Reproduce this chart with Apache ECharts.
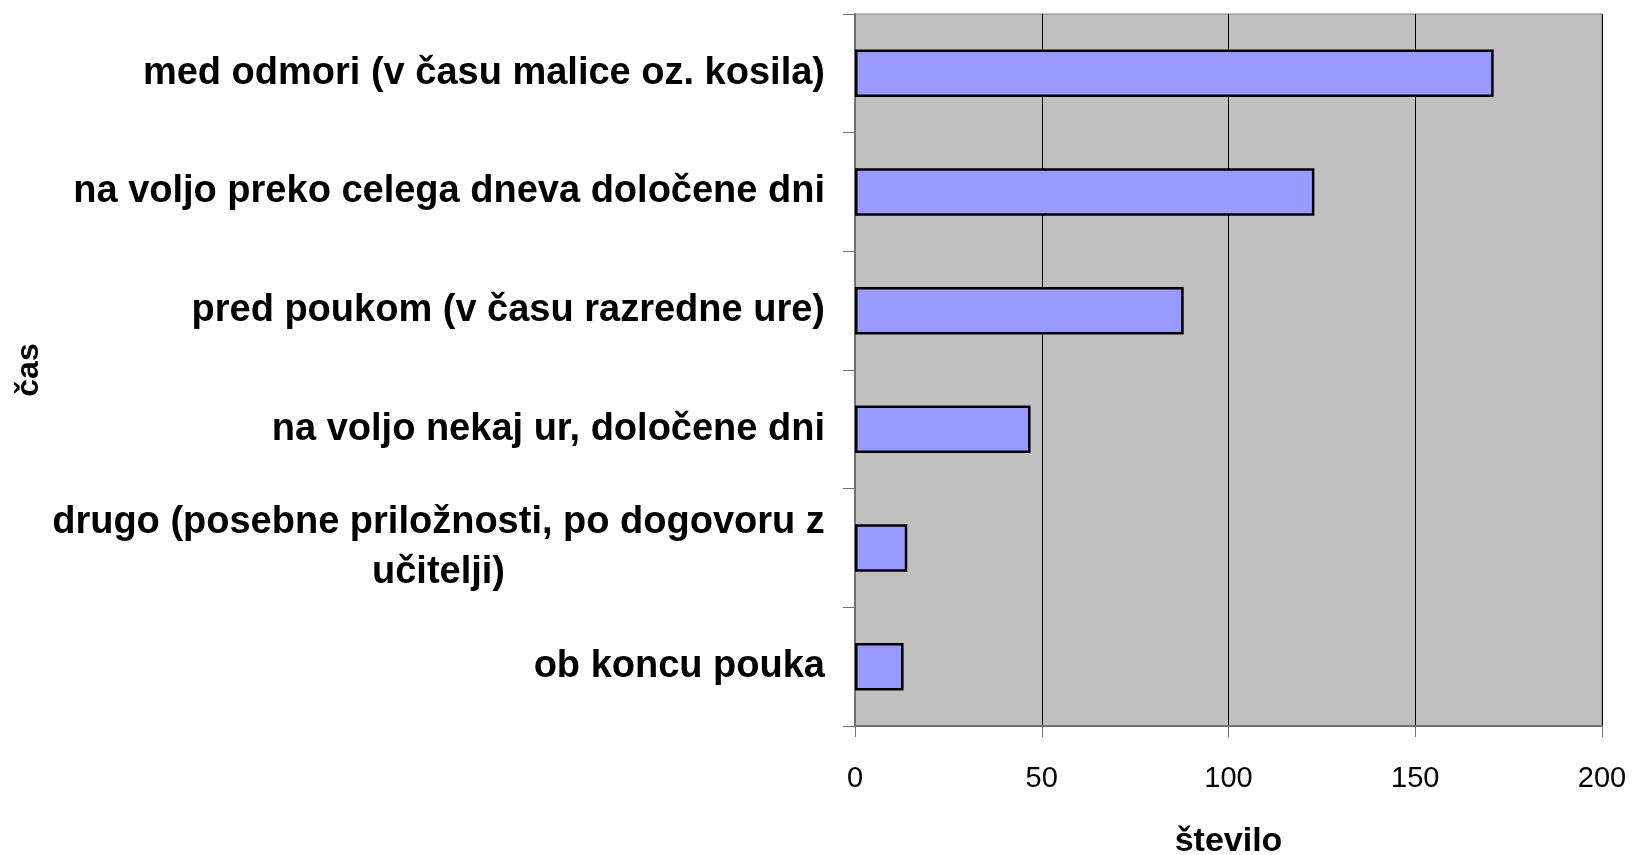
<!DOCTYPE html>
<html>
<head>
<meta charset="utf-8">
<script src="https://cdn.jsdelivr.net/npm/echarts@6/dist/echarts.min.js"></script>
<style>
  html, body { margin: 0; padding: 0; background: #fff; }
  #chart { width: 1635px; height: 855px; }
</style>
</head>
<body>
<div id="chart"></div>
<script>
// categories listed top to bottom
const categories = [
  'med odmori (v času malice oz. kosila)',
  'na voljo preko celega dneva določene dni',
  'pred poukom (v času razredne ure)',
  'na voljo nekaj ur, določene dni',
  'drugo (posebne priložnosti, po dogovoru z\nučitelji)',
  'ob koncu pouka'
];
const values = [171, 123, 88, 47, 14, 13];
const xTicks = [0, 50, 100, 150, 200];

const FONT = '"Liberation Sans", Arial, sans-serif';
const labelSize = 38;

// width of the widest line of the wrapped label, so its lines can be centred
const ctx = document.createElement('canvas').getContext('2d');
ctx.font = 'bold ' + labelSize + 'px ' + FONT;
const wrapWidth = Math.ceil(ctx.measureText('drugo (posebne priložnosti, po dogovoru z').width);

const chart = echarts.init(document.getElementById('chart'));

const option = {
  animation: false,
  grid: {
    left: 855,
    right: 33,
    top: 14,
    bottom: 129,
    containLabel: false,
    outerBoundsMode: 'none',
    show: true,
    backgroundColor: '#c0c0c0',
    borderColor: '#808080',
    borderWidth: 1
  },
  xAxis: {
    type: 'value',
    min: xTicks[0],
    max: xTicks[xTicks.length - 1],
    interval: 50,
    name: 'število',
    nameLocation: 'middle',
    nameGap: 99,
    nameTextStyle: { fontFamily: FONT, fontSize: 34, fontWeight: 'bold', color: '#000' },
    axisLine: { show: true, lineStyle: { color: '#707070', width: 2 } },
    axisTick: { show: true, length: 11, lineStyle: { color: '#707070', width: 1 } },
    axisLabel: { fontFamily: FONT, fontSize: 29, color: '#000', margin: 38 },
    splitLine: { show: true, lineStyle: { color: '#000', width: 1 } }
  },
  yAxis: {
    type: 'category',
    inverse: true,
    data: categories,
    name: 'čas',
    nameLocation: 'middle',
    nameGap: 810,
    nameTextStyle: { fontFamily: FONT, fontSize: 32, fontWeight: 'bold', color: '#000' },
    axisLine: { show: true, lineStyle: { color: '#707070', width: 2 } },
    axisTick: { show: true, length: 12, lineStyle: { color: '#707070', width: 1 } },
    axisLabel: {
      fontFamily: FONT,
      fontSize: labelSize,
      fontWeight: 'bold',
      color: '#000',
      margin: 30,
      lineHeight: 50,
      formatter: function (v) {
        if (v.indexOf('\n') >= 0) {
          return v.split('\n').map(function (s) { return '{c|' + s + '}'; }).join('\n');
        }
        return v;
      },
      rich: {
        c: {
          width: wrapWidth,
          align: 'center',
          fontFamily: FONT,
          fontSize: labelSize,
          fontWeight: 'bold',
          color: '#000',
          lineHeight: 50
        }
      }
    },
    splitLine: { show: false }
  },
  series: [
    {
      type: 'bar',
      data: values,
      barWidth: '40%',
      itemStyle: { color: '#9999ff', borderColor: '#000', borderWidth: 2.5 }
    }
  ]
};

chart.setOption(option);
</script>
</body>
</html>
